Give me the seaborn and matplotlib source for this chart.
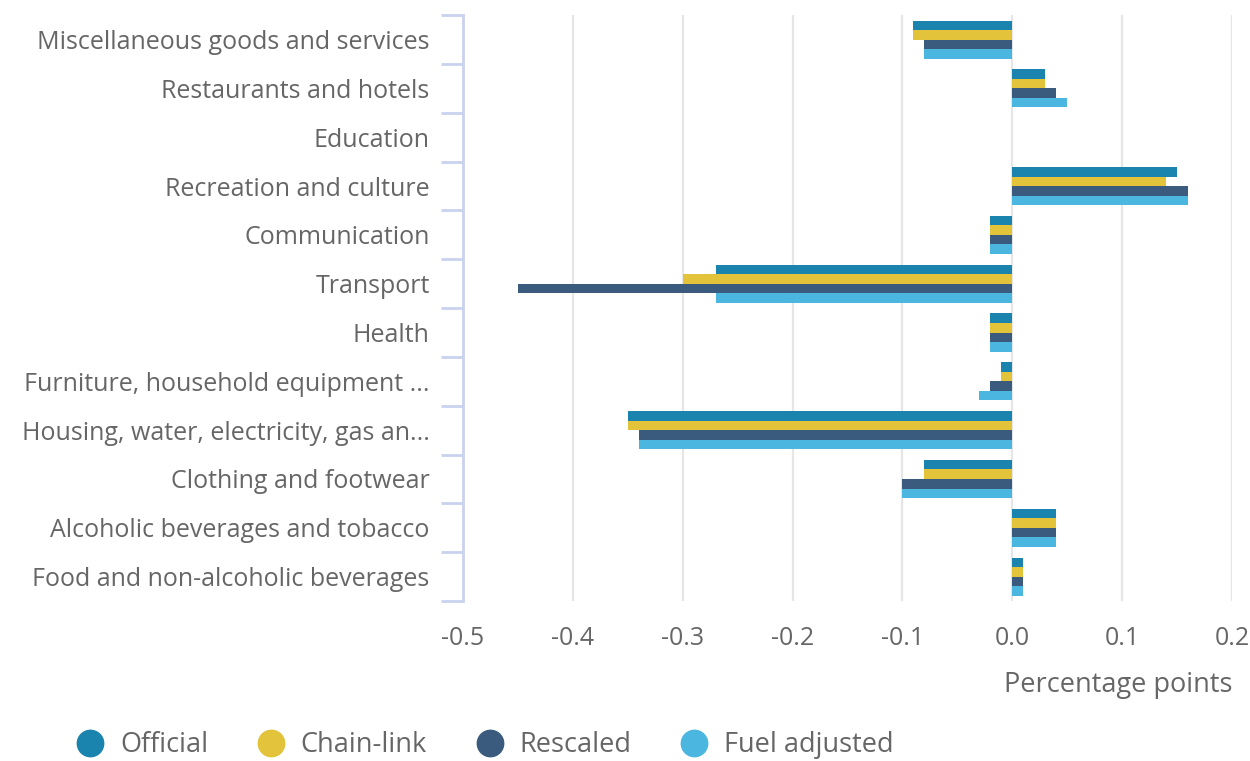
# Contribution to inflation by category - horizontal grouped bars
import pandas as pd
import matplotlib
matplotlib.use('Agg')
import matplotlib.pyplot as plt
from matplotlib.lines import Line2D
import seaborn as sns

sns.set_style('white')
plt.rcParams['font.family'] = ['Open Sans', 'DejaVu Sans']

# categories, listed top to bottom
categories = [
    'Miscellaneous goods and services',
    'Restaurants and hotels',
    'Education',
    'Recreation and culture',
    'Communication',
    'Transport',
    'Health',
    'Furniture, household equipment ...',
    'Housing, water, electricity, gas an...',
    'Clothing and footwear',
    'Alcoholic beverages and tobacco',
    'Food and non-alcoholic beverages',
]
official = [-0.09, 0.03, 0.0, 0.15, -0.02, -0.27, -0.02, -0.01, -0.35, -0.08, 0.04, 0.01]
chain_link = [-0.09, 0.03, 0.0, 0.14, -0.02, -0.30, -0.02, -0.01, -0.35, -0.08, 0.04, 0.01]
rescaled = [-0.08, 0.04, 0.0, 0.16, -0.02, -0.45, -0.02, -0.02, -0.34, -0.10, 0.04, 0.01]
fuel_adjusted = [-0.08, 0.05, 0.0, 0.16, -0.02, -0.27, -0.02, -0.03, -0.34, -0.10, 0.04, 0.01]

series = ['Official', 'Chain-link', 'Rescaled', 'Fuel adjusted']
colors = ['#1a84ae', '#e3c33a', '#3a5b7d', '#4bb6df']
xticks = [-0.5, -0.4, -0.3, -0.2, -0.1, 0.0, 0.1, 0.2]

df = pd.DataFrame({
    'category': categories * 4,
    'series': [s for s in series for _ in categories],
    'value': official + chain_link + rescaled + fuel_adjusted,
})

text_col = '#666666'
axis_col = '#c9d3ee'
fs = 18
fs_big = 19.5

fig = plt.figure(figsize=(12.5, 7.61), dpi=100)
ax = fig.add_axes([0.3704, 0.2102, 0.6152, 0.7698])

sns.barplot(data=df, x='value', y='category', hue='series', order=categories,
            hue_order=series, palette=colors, saturation=1, orient='h', width=0.78,
            linewidth=0, ax=ax, legend=False)

ax.set_xlim(-0.5, 0.2)
ax.set_ylim(len(categories) - 0.5, -0.5)
ax.set_xticks(xticks)
ax.set_xticklabels([f'{t:.1f}' for t in xticks])
ax.grid(axis='x', color='#e6e6e6', linewidth=1.6)
ax.set_axisbelow(True)

# category ticks sit between the groups, labels in the middle
ax.set_yticks([i + 0.5 for i in range(-1, len(categories))])
ax.set_yticklabels([])
ax.set_yticks(range(len(categories)), minor=True)
ax.set_yticklabels(categories, minor=True)
ax.tick_params(axis='y', which='major', left=True, length=16, width=2, color=axis_col)
ax.tick_params(axis='y', which='minor', left=True, length=0, pad=24, labelsize=fs, labelcolor=text_col)
ax.tick_params(axis='x', length=0, pad=18, labelsize=fs, labelcolor=text_col)

for s in ['top', 'right', 'bottom']:
    ax.spines[s].set_visible(False)
ax.spines['left'].set_color(axis_col)
ax.spines['left'].set_linewidth(2)

ax.set_ylabel('')
ax.set_xlabel('Percentage points', fontsize=fs_big, color=text_col)
ax.xaxis.set_label_coords(1.0, -0.119)
ax.xaxis.label.set_horizontalalignment('right')

handles = [Line2D([], [], marker='o', linestyle='', markersize=19, color=c) for c in colors]
fig.legend(handles, series, loc='center left', bbox_to_anchor=(0.062, 0.021), ncol=4,
           frameon=False, fontsize=fs_big, labelcolor=text_col, handlelength=0.92,
           handletextpad=0.65, columnspacing=1.85, borderpad=0, borderaxespad=0)

fig.savefig('out.png', dpi=100)
